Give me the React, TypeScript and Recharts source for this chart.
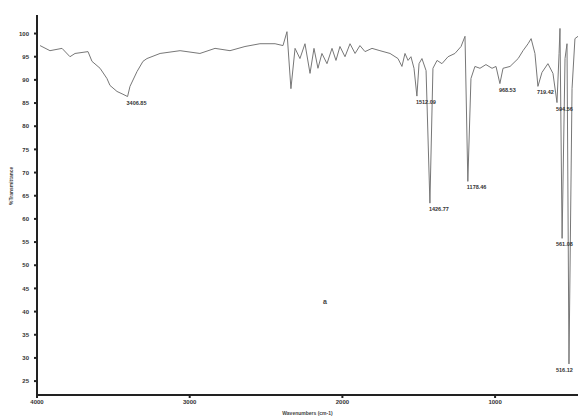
import React from "react";
import {
  LineChart, Line, XAxis, YAxis, ReferenceDot, Label,
} from "recharts";

// FTIR spectrum: wavenumber (cm-1) vs %T
const wavenumbers = [
  3980, 3915, 3836, 3784, 3751, 3666, 3640, 3587, 3542, 3522, 3476, 3437, 3406.85,
  3391, 3345, 3306, 3280, 3194, 3063, 2933, 2834, 2736, 2638, 2540, 2441, 2389,
  2363, 2337, 2310, 2278, 2245, 2212, 2186, 2160, 2134, 2101, 2068, 2042, 2016,
  1983, 1950, 1917, 1885, 1852, 1806, 1754, 1688, 1636, 1610, 1590, 1570, 1551,
  1531, 1512.09, 1498, 1479, 1452, 1426.77, 1407, 1380, 1348, 1308, 1263, 1223,
  1197, 1178.46, 1158, 1132, 1099, 1060, 1020, 994, 968.53, 948, 902, 849, 817,
  784, 764, 739, 719.42, 693, 654, 621, 594.56, 581, 575, 561.08, 542, 529,
  516.12, 496, 477, 457,
];

const transmittance = [
  97.4, 96.3, 96.8, 95.0, 95.7, 96.1, 94.0, 92.5, 90.3, 88.8, 87.5, 86.9, 86.4,
  88.6, 91.8, 94.0, 94.6, 95.7, 96.3, 95.7, 96.8, 96.3, 97.2, 97.8, 97.8, 97.4,
  100.4, 88.1, 96.8, 94.6, 97.8, 91.4, 96.8, 92.5, 95.7, 93.5, 96.8, 94.2, 97.2,
  95.0, 97.8, 95.7, 97.4, 96.1, 96.8, 96.3, 95.7, 94.6, 92.9, 95.7, 94.2, 95.0,
  92.5, 86.5, 93.5, 94.6, 92.0, 63.4, 92.5, 94.2, 93.5, 95.0, 95.7, 97.2,
  99.4, 68.1, 90.3, 92.9, 92.5, 93.3, 92.5, 92.9, 89.2, 92.5, 92.9, 94.6, 96.3,
  97.8, 98.9, 95.7, 88.6, 91.6, 93.5, 91.4, 85.1, 95.7, 101.1, 55.8, 94.6, 97.8,
  28.7, 88.1, 98.9, 99.4,
];

// labelled absorption bands
const peakWavenumbers = [3406.85, 1512.09, 1426.77, 1178.46, 968.53, 719.42, 594.56, 561.08, 516.12];
const peakTransmittance = [86.4, 86.5, 63.4, 68.1, 89.2, 88.6, 85.1, 55.8, 28.7];

const yTicks = [25, 30, 35, 40, 45, 50, 55, 60, 65, 70, 75, 80, 85, 90, 95, 100];
const xTicks = [4000, 3000, 2000, 1000];

const spectrum = wavenumbers.map((wn, i) => ({ wn, t: transmittance[i] }));

const FONT = "'Liberation Sans', Arial, sans-serif";
const tickStyle = { fill: "#333", fontSize: 6, fontWeight: 700, fontFamily: FONT };

const PeakLabel = (props: any) => {
  const { cx, cy, text } = props;
  // keep labels near the right edge inside the svg
  const x = Math.min(cx - 1, 556);
  return (
    <text x={x} y={cy + 8} fontSize={5.5} fontWeight={700} fill="#333" fontFamily={FONT}>
      {text}
    </text>
  );
};

const SampleTag = (props: any) => (
  <text x={props.cx} y={props.cy} fontSize={7} fontWeight={700} fill="#444" textAnchor="middle" fontFamily={FONT}>
    a
  </text>
);

export default function App() {
  return (
    <div style={{ position: "absolute", left: 0, top: 0, width: 582, height: 416, background: "#fff" }}>
      <LineChart width={582} height={416} data={spectrum} margin={{ top: 15, right: 4, left: 0, bottom: 0 }}>
        <XAxis
          dataKey="wn"
          type="number"
          reversed
          domain={[457, 4000]}
          ticks={xTicks}
          allowDataOverflow
          height={21}
          tick={tickStyle}
          tickSize={3}
          tickMargin={2}
          stroke="#222"
          strokeWidth={2}
        >
          <Label value="Wavenumbers (cm-1)" position="insideBottom" offset={1} fontSize={5} fontWeight={700} fill="#444" fontFamily={FONT} />
        </XAxis>
        <YAxis
          type="number"
          domain={[22, 104]}
          ticks={yTicks}
          allowDataOverflow
          width={37}
          tick={tickStyle}
          tickSize={3}
          tickMargin={5}
          stroke="#222"
          strokeWidth={2}
        >
          <Label value="%Transmittance" angle={-90} position="insideLeft" offset={11} fontSize={5} fontWeight={700} fill="#444" fontFamily={FONT} />
        </YAxis>
        <Line
          type="linear"
          dataKey="t"
          stroke="#777"
          strokeWidth={1}
          dot={false}
          isAnimationActive={false}
        />
        {peakWavenumbers.map((wn, i) => (
          <ReferenceDot
            key={wn}
            x={wn}
            y={peakTransmittance[i]}
            r={0}
            ifOverflow="visible"
            shape={(p: any) => <PeakLabel {...p} text={wn.toFixed(2)} />}
          />
        ))}
        <ReferenceDot x={2114} y={41.6} r={0} shape={(p: any) => <SampleTag {...p} />} />
      </LineChart>
    </div>
  );
}
